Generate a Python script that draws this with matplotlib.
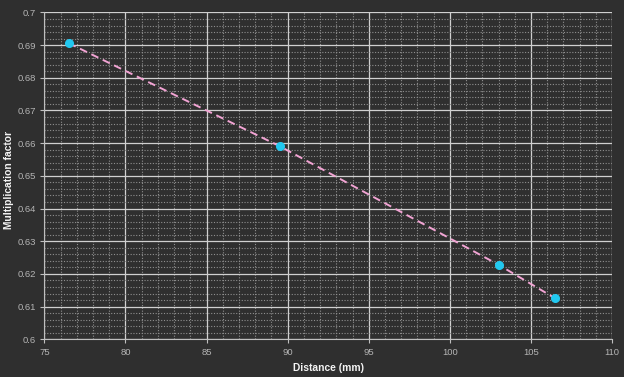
import numpy as np
import matplotlib
matplotlib.use('Agg')
import matplotlib.pyplot as plt
from matplotlib.ticker import MultipleLocator, FuncFormatter

# data
distance = [76.5, 89.5, 103.0, 106.5]
factor = [0.6906, 0.6591, 0.6228, 0.6125]

plt.rcParams['font.family'] = ['Liberation Sans', 'DejaVu Sans']

bg = '#2f2f2f'
fig = plt.figure(figsize=(6.24, 3.77), dpi=100, facecolor=bg)
ax = fig.add_axes([0.071, 0.100, 0.910, 0.867], facecolor=bg)

ax.plot(distance, factor, linestyle=(0, (4, 2.5)), color='#f2a4d4', linewidth=1.4,
        marker='o', markersize=5.5, markerfacecolor='#22c8f0',
        markeredgecolor='#22c8f0', zorder=3)

ax.set_xlim(75, 110)
ax.set_ylim(0.6, 0.7)
ax.xaxis.set_major_locator(MultipleLocator(5))
ax.xaxis.set_minor_locator(MultipleLocator(1))
ax.yaxis.set_major_locator(MultipleLocator(0.01))
ax.yaxis.set_minor_locator(MultipleLocator(0.002))
ax.yaxis.set_major_formatter(FuncFormatter(lambda v, p: '%g' % round(v, 3)))

ax.grid(which='major', color='#d0d0d0', linewidth=0.9, linestyle='-')
ax.grid(which='minor', color='#8f8f8f', linewidth=0.8, linestyle=(0, (1, 1.5)))
ax.set_axisbelow(True)

for s in ax.spines.values():
    s.set_visible(False)
ax.spines['left'].set_visible(True)
ax.spines['bottom'].set_visible(True)
ax.spines['left'].set_color('#bfbfbf')
ax.spines['bottom'].set_color('#bfbfbf')

ax.tick_params(which='major', colors='#bfbfbf', labelcolor='#b4b4b4',
               labelsize=6.8, length=3, width=0.8, pad=3)
ax.tick_params(which='minor', length=0)

ax.set_xlabel('Distance (mm)', color='#f4f4f4', fontsize=7.4, fontweight='bold')
ax.set_ylabel('Multiplication factor', color='#f4f4f4', fontsize=7.4, fontweight='bold')
ax.xaxis.set_label_coords(0.5, -0.073)
ax.yaxis.set_label_coords(-0.053, 0.487)

fig.savefig('out.png', dpi=100, facecolor=bg)
